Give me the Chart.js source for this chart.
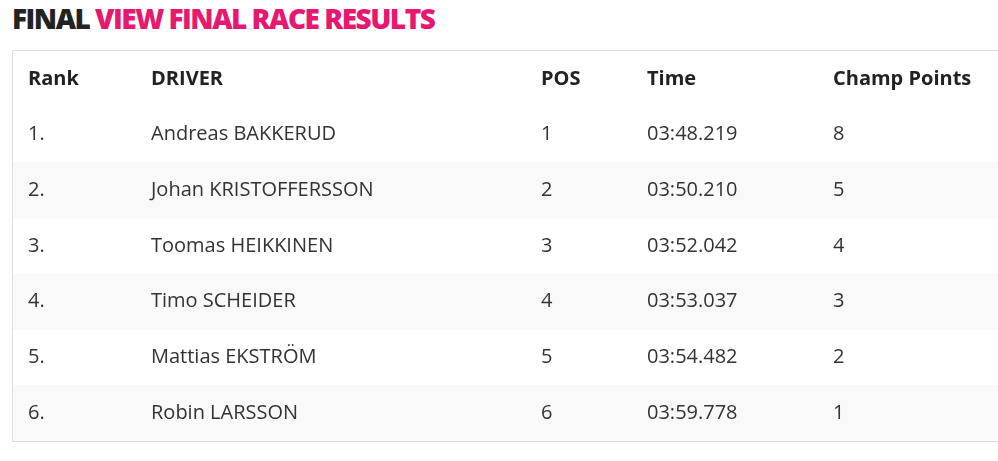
<!DOCTYPE html>
<html>
<head>
<meta charset="utf-8">
<script src="https://cdn.jsdelivr.net/npm/chart.js@4"></script>
<style>
  body { margin: 0; background: #fff; font-family: "Open Sans", sans-serif; }
  h2 { position: absolute; left: 12px; top: 0; margin: 0; font-size: 28px; line-height: 36px;
       font-weight: 800; letter-spacing: -1.5px; color: #222; }
  h2 span { color: #e8176f; }
  #box { position: absolute; left: 12px; top: 50px; width: 990px; height: 392px;
         border: 1px solid #ddd; box-sizing: border-box; }
</style>
</head>
<body>
<h2>FINAL <span>VIEW FINAL RACE RESULTS</span></h2>
<div id="box"><canvas id="table"></canvas></div>
<script>
// Table data
const headers = ['Rank', 'DRIVER', 'POS', 'Time', 'Champ Points'];
const ranks = ['1.', '2.', '3.', '4.', '5.', '6.'];
const drivers = ['Andreas BAKKERUD', 'Johan KRISTOFFERSSON', 'Toomas HEIKKINEN', 'Timo SCHEIDER', 'Mattias EKSTRÖM', 'Robin LARSSON'];
const positions = [1, 2, 3, 4, 5, 6];
const times = ['03:48.219', '03:50.210', '03:52.042', '03:53.037', '03:54.482', '03:59.778'];
const points = [8, 5, 4, 3, 2, 1];

const rowLabels = ['header'].concat(ranks);
const colX = [15, 138, 528, 634, 820]; // column left edges inside the box

// striped rows: every second body row is shaded
const stripes = rowLabels.map((r, i) => (i > 0 && i % 2 === 0) ? [0, 1000] : null);

const cellText = {
  id: 'cellText',
  afterDatasetsDraw(chart) {
    const { ctx, scales: { y } } = chart;
    ctx.save();
    ctx.textBaseline = 'middle';
    rowLabels.forEach((r, i) => {
      const py = y.getPixelForValue(i);
      let cells;
      if (i === 0) {
        ctx.font = 'bold 20px "Open Sans"';
        ctx.fillStyle = '#222';
        cells = headers;
      } else {
        ctx.font = '20px "Open Sans"';
        ctx.fillStyle = '#333';
        const k = i - 1;
        cells = [ranks[k], drivers[k], String(positions[k]), times[k], String(points[k])];
      }
      cells.forEach((t, c) => ctx.fillText(t, colX[c], py));
    });
    ctx.restore();
  }
};

new Chart(document.getElementById('table'), {
  type: 'bar',
  data: {
    labels: rowLabels,
    datasets: [{
      data: stripes,
      backgroundColor: '#f9f9f9',
      barPercentage: 1,
      categoryPercentage: 1
    }]
  },
  options: {
    indexAxis: 'y',
    responsive: true,
    maintainAspectRatio: false,
    animation: false,
    layout: { padding: 0 },
    plugins: { legend: { display: false }, tooltip: { enabled: false } },
    scales: {
      x: { display: false, min: 0, max: 988 },
      y: { display: false }
    }
  },
  plugins: [cellText]
});
</script>
</body>
</html>
